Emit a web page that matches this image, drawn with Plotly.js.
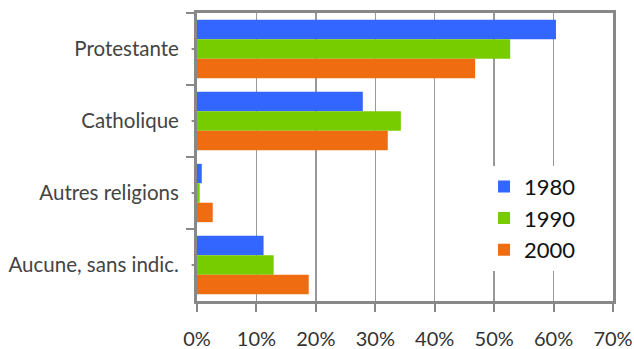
<!DOCTYPE html>
<html><head><meta charset="utf-8">
<script src="https://cdn.plot.ly/plotly-3.0.1.min.js"></script>
<style>html,body{margin:0;padding:0;background:#fff}#chart{width:634px;height:349px}</style>
</head><body><div id="chart"></div>
<script>
const categories = ["Protestante", "Catholique", "Autres religions", "Aucune, sans indic."];
const years = ["1980", "1990", "2000"];
const values1980 = [0.604, 0.279, 0.008, 0.112];
const values1990 = [0.527, 0.343, 0.0045, 0.129];
const values2000 = [0.468, 0.321, 0.0265, 0.188];
const xTicks = [0, 0.1, 0.2, 0.3, 0.4, 0.5, 0.6, 0.7];
const colors = ["#3366FF", "#77CC00", "#F06C10"];
const series = [values1980, values1990, values2000];

const font = "Lato, 'Open Sans', sans-serif";
const traces = series.map((vals, i) => ({
  type: "bar", orientation: "h", name: years[i],
  x: vals, y: categories, marker: {color: colors[i]},
  hoverinfo: "none"
}));

// small centre ticks on the category axis
const centreTicks = categories.map(c => ({
  type: "line", xref: "paper", yref: "y", x0: -0.013, x1: -0.004, y0: c, y1: c,
  line: {color: "#888", width: 2}, layer: "above"
}));

const layout = {
  width: 634, height: 349,
  margin: {l: 197, r: 21, t: 13, b: 48, pad: 0},
  paper_bgcolor: "#fff", plot_bgcolor: "#fff",
  barmode: "group", bargap: 0.19, bargroupgap: 0,
  font: {family: font, color: "#444", size: 19},
  showlegend: true,
  legend: {x: 0.69, y: 0.47, xanchor: "left", yanchor: "top",
    bgcolor: "#fff", font: {size: 22, color: "#111", family: font},
    traceorder: "normal", tracegroupgap: 0},
  xaxis: {range: [0, 0.7], tickvals: xTicks, tickformat: ".0%",
    showgrid: true, gridcolor: "#999", gridwidth: 1.5,
    showline: true, mirror: true, linecolor: "#888", linewidth: 3,
    ticks: "outside", ticklen: 8, tickcolor: "#888", tickwidth: 2,
    ticklabelstandoff: 10, zeroline: false,
    tickfont: {size: 20, color: "#333"}},
  yaxis: {type: "category", categoryarray: categories, categoryorder: "array",
    autorange: "reversed",
    showline: true, mirror: true, linecolor: "#888", linewidth: 3,
    ticks: "outside", tickson: "boundaries", ticklen: 8, tickcolor: "#888", tickwidth: 2,
    showgrid: false, zeroline: false, ticklabelstandoff: 11,
    tickfont: {size: 20.5, color: "#444"}},
  shapes: centreTicks
};

Plotly.newPlot("chart", traces, layout, {displayModeBar: false, staticPlot: true});
</script></body></html>
